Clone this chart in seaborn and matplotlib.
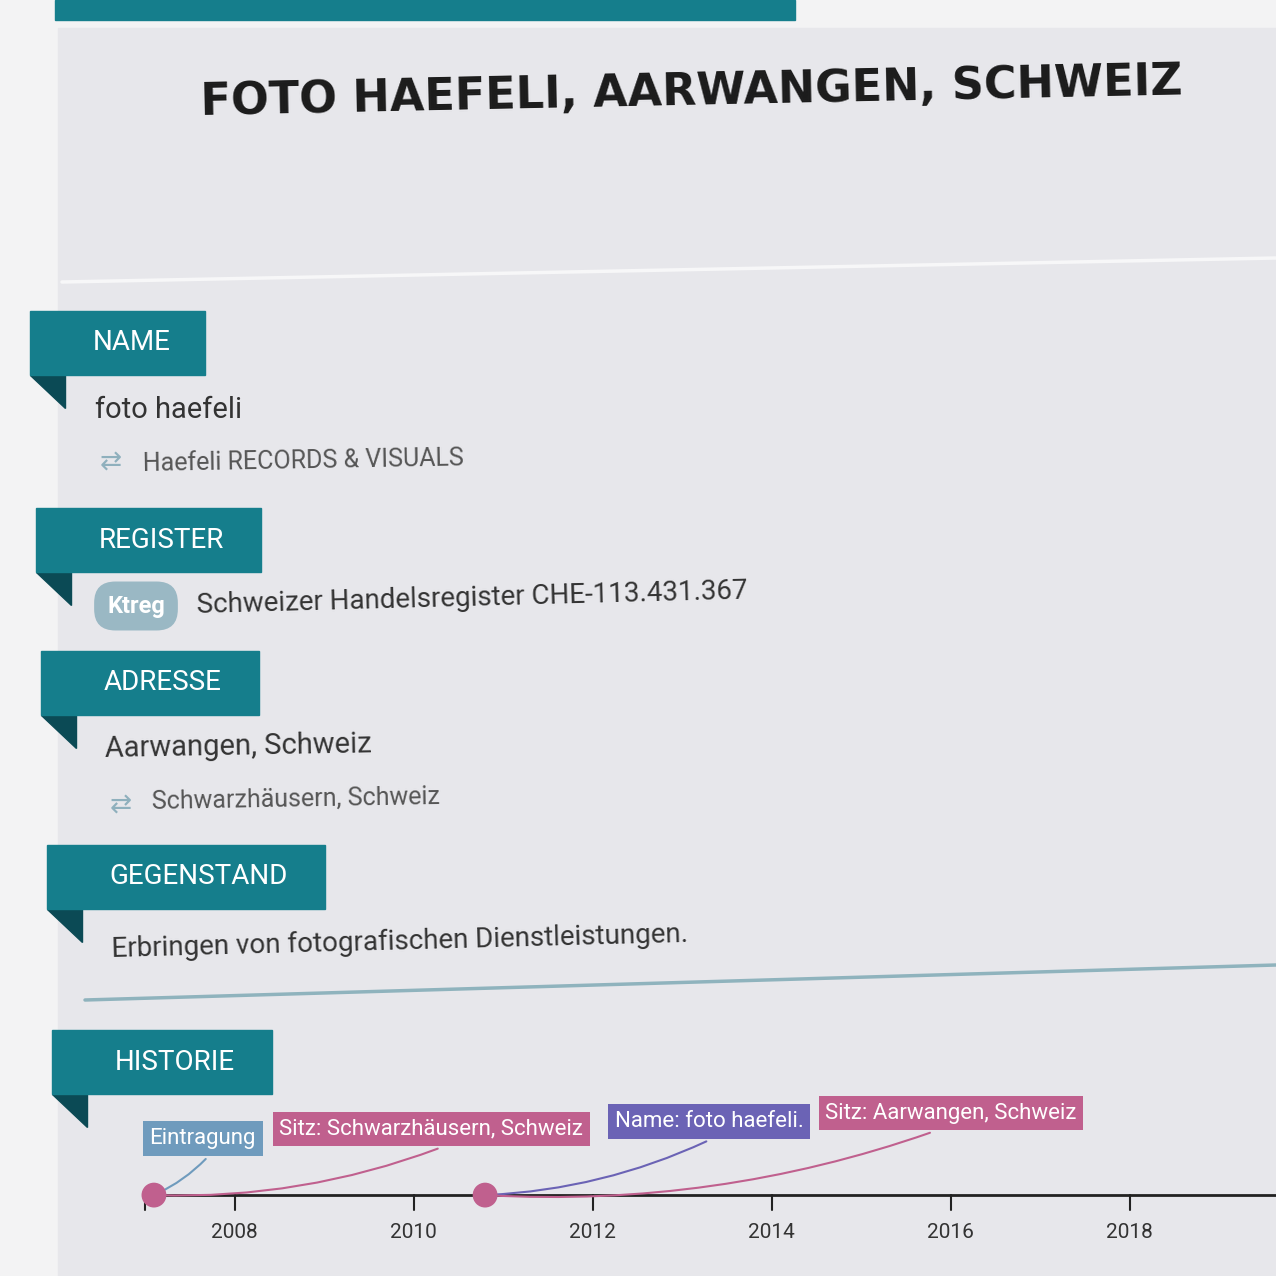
import matplotlib.pyplot as plt
import matplotlib.patches as mpatches
import seaborn as sns
import pandas as pd

# data
sections = ["NAME", "REGISTER", "ADRESSE", "GEGENSTAND", "HISTORIE"]
section_y = [343, 540, 683, 877, 1062]
section_w = [175, 225, 218, 278, 220]
event_labels = ["Eintragung", "Sitz: Schwarzhäusern, Schweiz", "Name: foto haefeli.", "Sitz: Aarwangen, Schweiz"]
event_years = [2007.1, 2007.1, 2010.8, 2010.8]
event_colors = ["#6f9bbd", "#c0608e", "#6b63b5", "#c0608e"]
tick_years = [2008, 2010, 2012, 2014, 2016, 2018]

TEAL = "#157e8c"
DARK = "#0b4a55"
FONT = "Roboto"

sns.set_theme(style="white")
fig = plt.figure(figsize=(12.76, 12.76), dpi=100)
fig.patch.set_facecolor("#f3f3f4")
ax = fig.add_axes([0, 0, 1, 1])
ax.set_xlim(0, 1276)
ax.set_ylim(1276, 0)
ax.axis("off")

# card
ax.add_patch(mpatches.Rectangle((58, 28), 1230, 1260, color="#e7e7eb", zorder=0))
ax.add_patch(mpatches.Rectangle((55, 0), 740, 20, color=TEAL, zorder=1))
ax.plot([62, 1276], [282, 258], color="#f7f7f8", lw=2.5)
ax.plot([85, 1276], [1000, 965], color="#8fb3bd", lw=2.5)
ax.text(692, 92, "FOTO HAEFELI, AARWANGEN, SCHWEIZ", fontsize=32, fontweight="bold",
        family="DejaVu Sans", ha="center", va="center", rotation=1.2, color="#1b1b1b")

for i, (name, y, w) in enumerate(zip(sections, section_y, section_w)):
    x0 = 30 + i * 5.5
    ax.add_patch(mpatches.Rectangle((x0, y - 32), w, 64, color=TEAL, zorder=2))
    ax.add_patch(mpatches.Polygon([[x0, y + 32], [x0 + 35, y + 32], [x0 + 35, y + 65]],
                                  color=DARK, zorder=1))
    ax.text(x0 + 63, y, name, fontsize=20, family=FONT, color="white", va="center", zorder=3)

ax.text(95, 410, "foto haefeli", fontsize=21, family=FONT, color="#333", va="center")
ax.text(100, 463, "⇄", fontsize=19, color="#8fb0bd", va="center", family="DejaVu Sans")
ax.text(143, 461, "Haefeli RECORDS & VISUALS", fontsize=18, family=FONT, color="#555", va="center", rotation=1)
ax.text(136, 606, "Ktreg", fontsize=17, family=FONT, fontweight="bold", color="white", ha="center",
        va="center", bbox=dict(boxstyle="round,pad=0.55,rounding_size=0.9", fc="#9ab8c4", ec="none"))
ax.text(196, 598, "Schweizer Handelsregister CHE-113.431.367", fontsize=20, family=FONT,
        color="#333", va="center", rotation=1.5)
ax.text(105, 747, "Aarwangen, Schweiz", fontsize=21, family=FONT, color="#333", va="center", rotation=1)
ax.text(110, 806, "⇄", fontsize=19, color="#8fb0bd", va="center", family="DejaVu Sans")
ax.text(152, 799, "Schwarzhäusern, Schweiz", fontsize=18, family=FONT, color="#555", va="center", rotation=1)
ax.text(111, 942, "Erbringen von fotografischen Dienstleistungen.", fontsize=20, family=FONT,
        color="#333", va="center", rotation=1.5)

# timeline
tl = fig.add_axes([0, 0, 1, 186 / 1276])
tl.set_facecolor("none")
px = 89.5
tl.set_xlim(2007 - 145 / px, 2007 + (1276 - 145) / px)
tl.set_ylim(0, 1)
base = 0.435
tl.axhline(base, xmin=145 / 1276, xmax=1, color="#222", lw=2)
for yr in tick_years:
    tl.plot([yr, yr], [base, base - 0.08], color="#222", lw=1.5)
    tl.text(yr, base - 0.2, str(yr), ha="center", va="center", fontsize=15, family=FONT, color="#333")
tl.plot([2007, 2007], [base, base - 0.08], color="#222", lw=1.5)

df = pd.DataFrame({"year": sorted(set(event_years)), "y": base})
sns.scatterplot(data=df, x="year", y="y", ax=tl, s=320, color="#c0608e", edgecolor="none", zorder=5)

label_x = [2007.05, 2008.5, 2012.25, 2014.6]
label_y = [0.74, 0.79, 0.83, 0.875]
anchor_x = [2007.7, 2010.3, 2013.3, 2015.8]
for lx, ly, ax_, lab, yr, c in zip(label_x, label_y, anchor_x, event_labels, event_years, event_colors):
    tl.text(lx, ly, lab, ha="left", va="center", fontsize=16, family=FONT, color="white",
            bbox=dict(boxstyle="square,pad=0.3", fc=c, ec="none"), zorder=6)
    tl.annotate("", xy=(yr, base), xytext=(ax_, ly - 0.1),
                arrowprops=dict(arrowstyle="-", color=c, lw=1.5, connectionstyle="arc3,rad=-0.1"))
tl.axis("off")

fig.savefig("out.png", dpi=100, facecolor=fig.get_facecolor())
